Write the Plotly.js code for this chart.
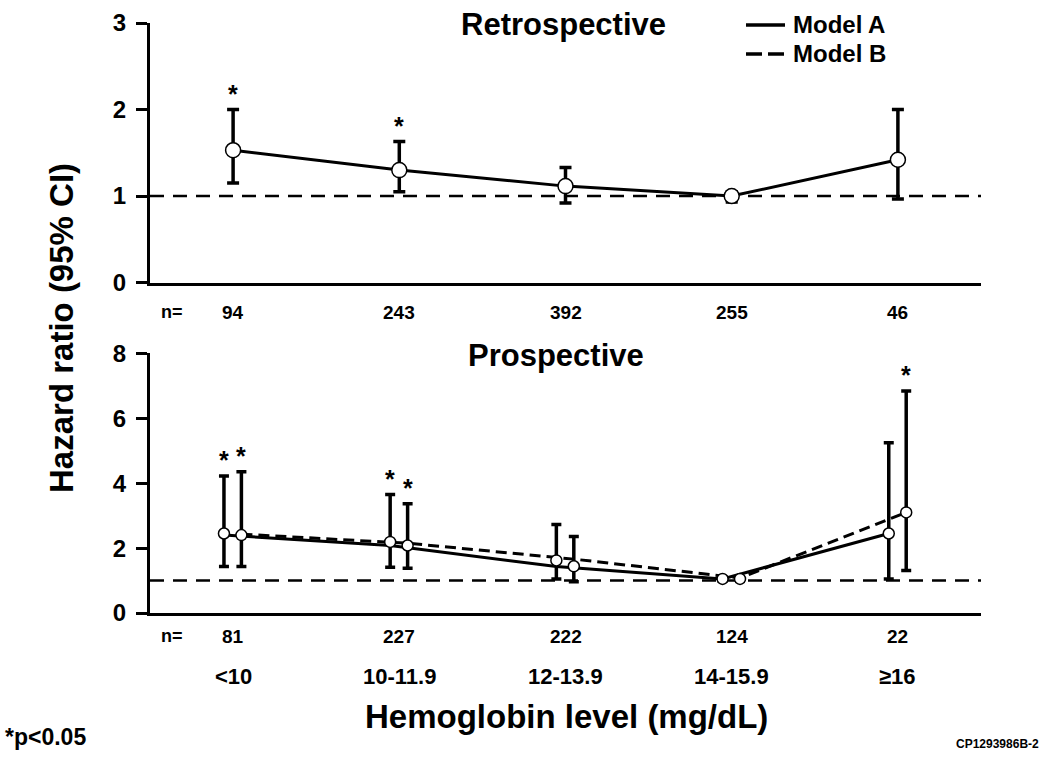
<!DOCTYPE html>
<html>
<head>
<meta charset="utf-8">
<script src="https://cdn.plot.ly/plotly-3.0.1.min.js"></script>
<style>html,body{margin:0;padding:0;background:#fff;}#chart{width:1050px;height:759px;}</style>
</head>
<body>
<div id="chart"></div>
<script>
// ---- Data ----
const categories = ['<10', '10-11.9', '12-13.9', '14-15.9', '≥16'];
const catIndex = [1, 2, 3, 4, 5];

// Retrospective cohort (single model)
const nRetro = [94, 243, 392, 255, 46];
const hrRetro = [1.53, 1.30, 1.115, 1.00, 1.42];
const lowRetro = [1.15, 1.05, 0.92, 0.93, 0.965];
const upRetro = [2.00, 1.63, 1.33, 1.05, 2.00];
const sigRetro = [true, true, false, false, false];

// Prospective cohort
const nPro = [81, 227, 222, 124, 22];
const hrProA = [2.45, 2.19, 1.62, 1.05, 2.45];
const lowProA = [1.43, 1.41, 1.05, 0.98, 1.05];
const upProA = [4.22, 3.65, 2.73, 1.12, 5.25];
const sigProA = [true, true, false, false, false];

const hrProB = [2.40, 2.08, 1.44, 1.05, 3.10];
const lowProB = [1.43, 1.38, 0.96, 0.98, 1.31];
const upProB = [4.35, 3.37, 2.36, 1.12, 6.84];
const sigProB = [true, true, false, false, true];

// connecting trend lines as drawn
const trendProA = [2.40, 2.08, 1.43, 1.05, 2.45];   // Model A (solid)
const trendProB = [2.43, 2.15, 1.66, 1.08, 3.10];   // Model B (dashed)

// ---- Style ----
const FONT = 'Arial, "Liberation Sans", sans-serif';
const offA = -0.055, offB = 0.05;
const xA = catIndex.map(v => v + offA);
const xB = catIndex.map(v => v + offB);
const diff = (a, b) => a.map((v, i) => v - b[i]);

function markerTrace(x, y, lo, up, xa, ya, size, capw) {
  return {
    x: x, y: y, xaxis: xa, yaxis: ya, type: 'scatter', mode: 'markers',
    showlegend: false, hoverinfo: 'skip', cliponaxis: false,
    marker: {size: size, color: '#ffffff', line: {color: '#000', width: 1.5}},
    error_y: {type: 'data', symmetric: false, array: diff(up, y), arrayminus: diff(y, lo),
              color: '#000', thickness: 3.5, width: capw}
  };
}

const data = [
  {x: catIndex, y: hrRetro, xaxis: 'x', yaxis: 'y', type: 'scatter', mode: 'lines',
   line: {color: '#000', width: 3}, showlegend: false, hoverinfo: 'skip'},
  markerTrace(catIndex, hrRetro, lowRetro, upRetro, 'x', 'y', 15, 6),
  {x: xA, y: trendProA, xaxis: 'x2', yaxis: 'y2', type: 'scatter', mode: 'lines',
   line: {color: '#000', width: 3}, showlegend: false, hoverinfo: 'skip'},
  {x: xB, y: trendProB, xaxis: 'x2', yaxis: 'y2', type: 'scatter', mode: 'lines',
   line: {color: '#000', width: 3, dash: '11px,6px'}, showlegend: false, hoverinfo: 'skip'},
  markerTrace(xA, hrProA, lowProA, upProA, 'x2', 'y2', 11, 5),
  markerTrace(xB, hrProB, lowProB, upProB, 'x2', 'y2', 11, 5)
];

// pixel -> paper helpers (plot area: x 150..981, y 23..613)
const px = p => (p - 150) / 831;
const py = p => (613 - p) / 590;

const annotations = [];
function txt(text, x, y, size, opts) {
  annotations.push(Object.assign({text: text, x: x, y: y, xref: 'paper', yref: 'paper',
    showarrow: false, font: {family: FONT, size: size, color: '#000', weight: 700},
    xanchor: 'center', yanchor: 'middle'}, opts || {}));
}

// significance stars
function stars(xs, ups, sig, xa, ya) {
  sig.forEach((s, i) => {
    if (s) annotations.push({text: '*', x: xs[i], y: ups[i], xref: xa, yref: ya,
      showarrow: false, xanchor: 'center', yanchor: 'bottom', yshift: 0,
      font: {family: FONT, size: 25, color: '#000', weight: 700}});
  });
}
stars(catIndex, upRetro, sigRetro, 'x', 'y');
stars(xA, upProA, sigProA, 'x2', 'y2');
stars(xB, upProB, sigProB, 'x2', 'y2');

// n rows and category labels
txt('n=', px(172), py(312), 18);
txt('n=', px(172), py(636), 18);
nRetro.forEach((n, i) => txt(String(n), catIndex[i], py(312), 19, {xref: 'x'}));
nPro.forEach((n, i) => txt(String(n), catIndex[i], py(636), 19, {xref: 'x2'}));
categories.forEach((c, i) => txt(c.replace('<', '&lt;'), catIndex[i], py(676), 22, {xref: 'x2'}));

// titles
txt('Retrospective', px(563), py(25), 31);
txt('Prospective', px(556), py(355), 31);
txt('Hemoglobin level (mg/dL)', px(566), py(717), 33);
txt('Hazard ratio (95% CI)', px(61), py(328), 33, {textangle: -90});
txt('*p<0.05'.replace('<', '&lt;'), px(3), py(737), 23, {xanchor: 'left'});
txt('CP1293986B-2', px(1041), py(744), 12, {xanchor: 'right'});

// legend
txt('Model A', px(791), py(25), 24, {xanchor: 'left'});
txt('Model B', px(791), py(54), 24, {xanchor: 'left'});

const shapes = [
  {type: 'line', xref: 'x', yref: 'y', x0: 0.5, x1: 5.5, y0: 1, y1: 1,
   line: {color: '#000', width: 2.5, dash: '14px,9px'}, layer: 'below'},
  {type: 'line', xref: 'x2', yref: 'y2', x0: 0.5, x1: 5.5, y0: 1, y1: 1,
   line: {color: '#000', width: 2.5, dash: '14px,9px'}, layer: 'below'},
  {type: 'line', xref: 'paper', yref: 'paper', x0: px(746), x1: px(785), y0: py(25), y1: py(25),
   line: {color: '#000', width: 3.5}},
  {type: 'line', xref: 'paper', yref: 'paper', x0: px(746), x1: px(784), y0: py(54), y1: py(54),
   line: {color: '#000', width: 3.5, dash: '16px,6px'}}
];

const axisCommon = {showline: true, linewidth: 3, linecolor: '#000', showgrid: false, zeroline: false,
  fixedrange: true};
const xCommon = Object.assign({}, axisCommon, {range: [0.5, 5.5], showticklabels: false, ticks: ''});
const yCommon = Object.assign({}, axisCommon, {ticks: 'outside', ticklen: 11, tickwidth: 3, tickcolor: '#000',
  ticklabelstandoff: 5,
  tickfont: {family: FONT, size: 24, color: '#000', weight: 700}});

const layout = {
  width: 1050, height: 759,
  margin: {l: 150, r: 69, t: 23, b: 146, pad: 0},
  paper_bgcolor: '#fff', plot_bgcolor: '#fff',
  showlegend: false,
  xaxis: Object.assign({}, xCommon, {domain: [0, 1], anchor: 'y'}),
  yaxis: Object.assign({}, yCommon, {domain: [0.56, 1], range: [0, 3], tickvals: [0, 1, 2, 3], anchor: 'x'}),
  xaxis2: Object.assign({}, xCommon, {domain: [0, 1], anchor: 'y2'}),
  yaxis2: Object.assign({}, yCommon, {domain: [0, 0.44], range: [0, 8], tickvals: [0, 2, 4, 6, 8], anchor: 'x2'}),
  annotations: annotations,
  shapes: shapes
};

Plotly.newPlot('chart', data, layout, {displayModeBar: false, staticPlot: true});
</script>
</body>
</html>
